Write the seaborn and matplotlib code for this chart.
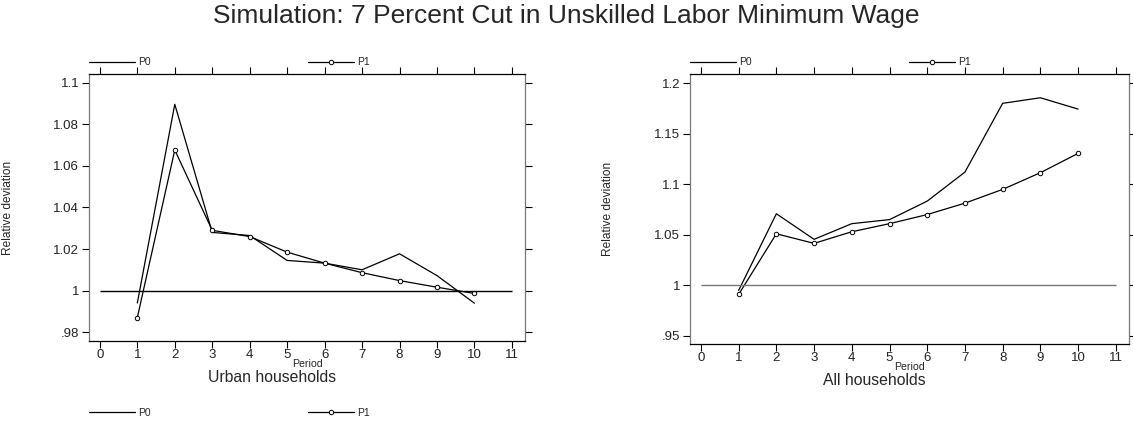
import numpy as np
import pandas as pd
import matplotlib
matplotlib.use('Agg')
import matplotlib.pyplot as plt
import seaborn as sns

# 数据
periods = [1, 2, 3, 4, 5, 6, 7, 8, 9, 10]
urban_p0 = [0.994, 1.0897, 1.028, 1.0265, 1.0145, 1.0132, 1.0100, 1.0177, 1.0072, 0.9939]
urban_p1 = [0.987, 1.0677, 1.029, 1.0260, 1.0185, 1.0132, 1.0086, 1.0048, 1.0016, 0.9986]
all_p0 = [0.995, 1.0708, 1.0455, 1.061, 1.065, 1.0833, 1.112, 1.180, 1.1855, 1.1743]
all_p1 = [0.991, 1.0510, 1.0415, 1.053, 1.061, 1.0700, 1.0813, 1.0949, 1.1114, 1.1305]

x_ticks = list(range(0, 12))
urban_yticks = [0.98, 1.0, 1.02, 1.04, 1.06, 1.08, 1.1]
urban_yticklabels = ['.98', '1', '1.02', '1.04', '1.06', '1.08', '1.1']
all_yticks = [0.95, 1.0, 1.05, 1.1, 1.15, 1.2]
all_yticklabels = ['.95', '1', '1.05', '1.1', '1.15', '1.2']
baseline = 1.0

sns.set_style('ticks')
plt.rcParams['font.family'] = ['Liberation Sans', 'DejaVu Sans']


def make_df(p0, p1):
    return pd.DataFrame({'Period': periods * 2,
                         'value': p0 + p1,
                         'series': ['P0'] * len(p0) + ['P1'] * len(p1)})


def draw_panel(ax, p0, p1, yticks, yticklabels, ylim, subtitle, base_color):
    df = make_df(p0, p1)
    sns.lineplot(data=df[df['series'] == 'P0'], x='Period', y='value',
                 color='black', lw=0.9, ax=ax, label='P0')
    sns.lineplot(data=df[df['series'] == 'P1'], x='Period', y='value',
                 color='black', lw=0.9, marker='o', markersize=3.2,
                 markerfacecolor='white', markeredgecolor='black',
                 markeredgewidth=0.7, ax=ax, label='P1')
    # 基准线
    ax.hlines(baseline, x_ticks[0], x_ticks[-1], color=base_color, lw=1.0)

    ax.set_xlim(-0.29, 11.35)
    ax.set_ylim(*ylim)
    ax.set_xticks(x_ticks)
    ax.set_yticks(yticks)
    ax.set_yticklabels(yticklabels)
    ax.tick_params(axis='both', direction='out', length=5, width=0.8,
                   labelsize=9.5, color='black', labelcolor='#222222')
    ax.tick_params(axis='x', pad=0.5, top=True, labeltop=False)
    ax.tick_params(axis='y', pad=2, right=True, labelright=False)
    for side in ['left', 'right']:
        ax.spines[side].set_color('#777777')
        ax.spines[side].set_visible(True)
    for side in ['top', 'bottom']:
        ax.spines[side].set_color('black')
        ax.spines[side].set_visible(True)
    for s in ax.spines.values():
        s.set_linewidth(0.9)

    ax.set_xlabel('Period', fontsize=7.6, labelpad=-1)
    ax.set_ylabel('Relative deviation', fontsize=8.6)
    ax.yaxis.set_label_coords(-0.172, 0.5)
    ax.text(0.42, -0.135, subtitle, transform=ax.transAxes, ha='center',
            va='center', fontsize=11.3)

    handles, labels = ax.get_legend_handles_labels()
    leg = ax.legend(handles, labels, loc='lower left', bbox_to_anchor=(0, 1.025),
                    ncol=2, frameon=False, fontsize=7.5, handlelength=4.4,
                    handletextpad=0.3, columnspacing=15.1, borderpad=0,
                    borderaxespad=0)
    return handles, labels, leg


fig = plt.figure(figsize=(11.33, 4.24), dpi=100)
ax1 = fig.add_axes([89 / 1133, 1 - 341 / 424, 436 / 1133, 267 / 424])
ax2 = fig.add_axes([690 / 1133, 1 - 344 / 424, 439 / 1133, 270 / 424])

h, l, leg1 = draw_panel(ax1, urban_p0, urban_p1, urban_yticks, urban_yticklabels,
                        (0.9757, 1.1043), 'Urban households', 'black')
draw_panel(ax2, all_p0, all_p1, all_yticks, all_yticklabels,
           (0.942, 1.209), 'All households', '#777777')

# 下方的图例
ax1.add_artist(leg1)
ax1.legend(h, l, loc='center left', bbox_to_anchor=(0, -0.27),
           ncol=2, frameon=False, fontsize=7.5, handlelength=4.4,
           handletextpad=0.3, columnspacing=15.1, borderpad=0, borderaxespad=0)

fig.suptitle('Simulation: 7 Percent Cut in Unskilled Labor Minimum Wage',
             fontsize=19, y=0.963, va='center')

fig.savefig('out.png', dpi=100)
